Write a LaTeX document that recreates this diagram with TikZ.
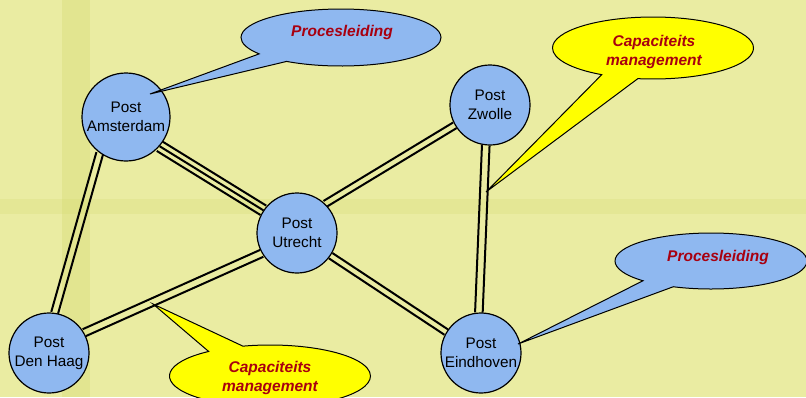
\documentclass[tikz,border=0pt]{standalone}
\usepackage{fontspec}
\setmainfont{Liberation Sans}
\usetikzlibrary{calc,shapes.callouts}
\definecolor{bgyellow}{RGB}{234,236,162}
\definecolor{band}{RGB}{212,218,112}
\definecolor{postblue}{RGB}{143,184,240}
\definecolor{calloutyellow}{RGB}{255,255,0}
\definecolor{labelred}{RGB}{168,0,16}
\pgfdeclarelayer{back}
\pgfdeclarelayer{lines}
\pgfsetlayers{back,lines,main}
\newcommand\railL[3]{\draw[rail] ($(#1)!#3!90:(#2)$) -- ($(#2)!#3!-90:(#1)$);}
\newcommand\railR[3]{\draw[rail] ($(#1)!#3!-90:(#2)$) -- ($(#2)!#3!90:(#1)$);}
\begin{document}
\begin{tikzpicture}[x=1pt,y=-1pt,
  post/.style={circle,draw=black,line width=1.2pt,fill=postblue,minimum size=80pt,
    inner sep=0pt,align=center,font=\fontsize{15.3}{19}\selectfont},
  rail/.style={line width=2pt,draw=black},
  bubble/.style={ellipse callout,draw=black,line width=1pt,inner sep=0pt,callout pointer arc=22},
  bubbletext/.style={align=center,text=labelred,font=\fontsize{15.5}{19}\selectfont\bfseries\itshape}]
\begin{pgfonlayer}{back}
\fill[bgyellow] (0,0) rectangle (806,397);
\fill[band,opacity=0.35] (62,0) rectangle (90,397);
\fill[band,opacity=0.25] (0,199) rectangle (806,214);
\end{pgfonlayer}
\useasboundingbox (0,0) rectangle (806,397);

\node[post,minimum size=88pt] (ams) at (126,117) {Post\\Amsterdam};
\node[post] (zwo) at (490,105) {Post\\Zwolle};
\node[post] (utr) at (297,233) {Post\\Utrecht};
\node[post] (dha) at (49,353) {Post\\Den Haag};
\node[post] (ein) at (481,353) {Post\\Eindhoven};

\begin{pgfonlayer}{lines}
\railL{ams.234}{dha.82}{3.5pt}\railR{ams.234}{dha.82}{3.5pt}
\railL{ams.319}{utr.146}{5.5pt}\railR{ams.319}{utr.146}{5.5pt}
\draw[rail] (ams.319) -- (utr.146);
\railL{utr.46}{zwo.210}{3.3pt}\railR{utr.46}{zwo.210}{3.3pt}
\railL{zwo.264}{ein.93}{3.8pt}\railR{zwo.264}{ein.93}{3.8pt}
\railL{utr.326}{ein.149}{3.2pt}\railR{utr.326}{ein.149}{3.2pt}
\railL{utr.210}{dha.30}{3.8pt}\railR{utr.210}{dha.30}{3.8pt}
\end{pgfonlayer}

\coordinate (tipams) at (150,94);
\coordinate (tipze) at (486,192);
\coordinate (tipein) at (518,344);
\coordinate (tipud) at (153,304);

\node[bubble,fill=postblue,minimum width=200pt,minimum height=57pt,
  callout absolute pointer=(tipams)] (pl1) at (341,37.5) {};
\node[bubbletext] (pl1t) at (342,32) {Procesleiding};

\node[bubble,fill=calloutyellow,minimum width=201pt,minimum height=62pt,
  callout absolute pointer=(tipze)] (cm1) at (653,48) {};
\node[bubbletext] (cm1t) at (654,52) {Capaciteits\\management};

\node[bubble,fill=postblue,minimum width=192pt,minimum height=56pt,
  callout absolute pointer=(tipein)] (pl2) at (711,261) {};
\node[bubbletext] (pl2t) at (718,257) {Procesleiding};

\node[bubble,fill=calloutyellow,minimum width=201pt,minimum height=62pt,
  callout absolute pointer=(tipud)] (cm2) at (270,376) {};
\node[bubbletext] (cm2t) at (270,378) {Capaciteits\\management};
\end{tikzpicture}
\end{document}
